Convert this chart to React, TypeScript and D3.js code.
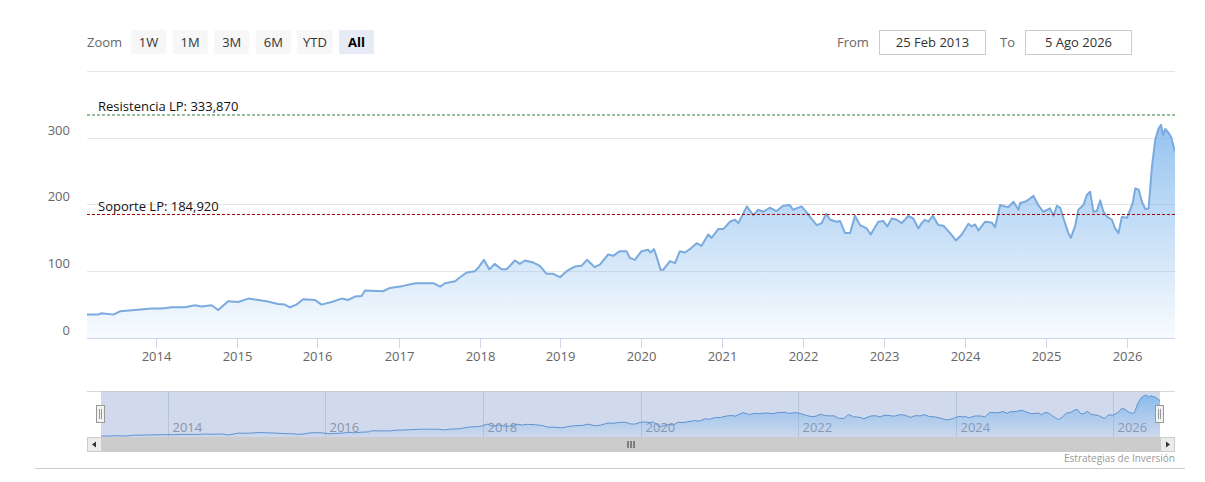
import React from "react";
import * as d3 from "d3";

const dates: string[] = [
  "2013-02-25","2013-04-15","2013-05-02","2013-06-24","2013-07-24","2013-09-29","2013-12-13",
  "2014-01-28","2014-03-14","2014-05-13","2014-06-27","2014-07-27","2014-09-10","2014-10-10","2014-11-24",
  "2015-01-08","2015-02-23","2015-04-08","2015-05-16","2015-07-07","2015-08-07","2015-08-29","2015-09-28","2015-10-28","2015-12-20",
  "2016-01-19","2016-03-05","2016-04-19","2016-05-19","2016-06-18","2016-07-18","2016-08-02","2016-10-23","2016-11-23",
  "2017-01-22","2017-03-16","2017-06-07","2017-07-07","2017-07-29","2017-09-13","2017-10-05","2017-11-04","2017-12-11","2017-12-26",
  "2018-01-21","2018-02-14","2018-03-11","2018-04-10","2018-05-03","2018-06-10","2018-07-02","2018-07-25","2018-09-01","2018-09-30","2018-10-31","2018-11-29","2018-12-30",
  "2019-01-29","2019-03-07","2019-04-06","2019-05-01","2019-06-05","2019-06-28","2019-08-04","2019-08-27","2019-09-26","2019-10-26","2019-11-10","2019-12-03",
  "2020-01-02","2020-02-01","2020-02-12","2020-02-27","2020-03-10","2020-03-28","2020-04-09","2020-05-09","2020-06-01","2020-06-23","2020-07-16","2020-08-07","2020-09-07","2020-09-29","2020-10-29","2020-11-13","2020-12-13",
  "2021-01-05","2021-02-04","2021-02-27","2021-03-14","2021-04-21","2021-05-20","2021-06-12","2021-07-04","2021-08-03","2021-09-02","2021-10-02","2021-11-01","2021-11-16","2021-12-24",
  "2022-01-16","2022-02-08","2022-03-03","2022-03-25","2022-04-14","2022-05-02","2022-06-01","2022-06-16","2022-07-08","2022-07-31","2022-08-22","2022-09-14","2022-10-14","2022-11-01","2022-12-05","2022-12-28",
  "2023-01-15","2023-02-04","2023-02-26","2023-03-21","2023-04-20","2023-05-12","2023-06-04","2023-06-19","2023-07-04","2023-07-19","2023-08-08","2023-09-02","2023-09-25","2023-10-25","2023-11-21","2023-12-17",
  "2024-01-16","2024-01-31","2024-02-15","2024-03-01","2024-03-31","2024-04-30","2024-05-15","2024-06-07","2024-06-29","2024-07-14","2024-08-06","2024-08-29","2024-09-05","2024-09-28","2024-10-13","2024-11-04","2024-11-26","2024-12-19",
  "2025-01-18","2025-02-03","2025-02-18","2025-03-05","2025-03-20","2025-04-11","2025-04-22","2025-05-11","2025-05-26","2025-06-18","2025-07-03","2025-07-18","2025-08-02","2025-08-17","2025-09-02","2025-09-16","2025-10-01","2025-10-24","2025-11-08","2025-11-23","2025-12-08","2025-12-31",
  "2026-01-15","2026-01-26","2026-02-07","2026-02-22","2026-03-09","2026-03-24","2026-04-08","2026-04-23","2026-05-08","2026-05-23","2026-06-03","2026-06-12","2026-06-22","2026-07-07","2026-07-18","2026-08-05",
];

const prices: number[] = [
  35,35,37,35,40,42,44,
  44,46,46,49,47,49,42,55,
  54,59,57,55,51,50,46,50,58,57,
  50,54,59,57,62,63,71,70,75,
  78,82,82,77,82,85,91,98,100,105,
  117,103,111,103,103,116,111,116,113,108,96,96,91,
  100,107,108,117,106,110,125,123,130,130,120,117,
  130,132,128,133,122,102,102,115,112,130,128,133,142,138,155,150,163,
  163,174,177,172,197,184,192,189,195,190,198,199,192,197,
  188,178,169,172,186,177,174,175,157,157,183,169,164,155,174,175,
  167,179,177,172,183,179,164,172,177,174,183,169,168,157,146,155,
  171,167,170,161,174,173,166,199,197,196,204,192,202,204,207,213,199,189,
  194,183,198,195,179,157,150,167,192,199,214,219,189,190,206,189,182,177,164,157,181,180,
  192,202,224,222,204,193,194,257,297,314,319,304,313,307,301,279,
];

const yTicks: number[] = [0, 100, 200, 300, 400];
const yTickLabels: string[] = ["0", "100", "200", "300", ""];
const xTickYears: number[] = [2014, 2015, 2016, 2017, 2018, 2019, 2020, 2021, 2022, 2023, 2024, 2025, 2026];
const navTickYears: number[] = [2014, 2016, 2018, 2020, 2022, 2024, 2026];
const zoomButtons: string[] = ["1W", "1M", "3M", "6M", "YTD", "All"];
const resistanceValue = 333.87;
const resistanceLabel = "Resistencia LP: 333,870";
const supportValue = 184.92;
const supportLabel = "Soporte LP: 184,920";
const fromLabel = "25 Feb 2013";
const toLabel = "5 Ago 2026";
const creditText = "Estrategias de Inversión";

const FONT = "'Open Sans', 'Segoe UI', Arial, sans-serif";

export default function App() {
  const parse = d3.timeParse("%Y-%m-%d");
  const data = dates.map((d, i) => ({ date: parse(d) as Date, value: prices[i] }));
  const domain = [data[0].date, data[data.length - 1].date];

  const left = 87, right = 1175, top = 70.8, bottom = 338;
  const x = d3.scaleTime().domain(domain).range([left, right]);
  const y = d3.scaleLinear().domain([0, 400]).range([bottom, top]);

  const area = d3.area<any>().x((d) => x(d.date)).y0(bottom).y1((d) => y(d.value));
  const line = d3.line<any>().x((d) => x(d.date)).y((d) => y(d.value));

  const navL = 101, navR = 1160, navTop = 391.5, navBottom = 437;
  const nx = d3.scaleTime().domain(domain).range([navL, navR]);
  const ny = d3.scaleLinear()
    .domain([d3.min(prices) as number, d3.max(prices) as number])
    .range([436, 395]);
  const navArea = d3.area<any>().x((d) => nx(d.date)).y0(navBottom).y1((d) => ny(d.value));
  const navLine = d3.line<any>().x((d) => nx(d.date)).y((d) => ny(d.value));

  const btnX0 = 131, btnStep = 41.6, btnW = 35;

  return (
    <svg width={1205} height={482} style={{ position: "absolute", left: 0, top: 0, background: "#fff" }} fontFamily={FONT}>
      <defs>
        <linearGradient id="mainGrad" gradientUnits="userSpaceOnUse" x1={0} y1={top} x2={0} y2={bottom}>
          <stop offset="0" stopColor="#7cb5ec" stopOpacity={1} />
          <stop offset="1" stopColor="#7cb5ec" stopOpacity={0.05} />
        </linearGradient>
        <linearGradient id="navGrad" gradientUnits="userSpaceOnUse" x1={0} y1={navTop} x2={0} y2={navBottom}>
          <stop offset="0" stopColor="#7cb5ec" stopOpacity={0.9} />
          <stop offset="1" stopColor="#7cb5ec" stopOpacity={0.05} />
        </linearGradient>
        <clipPath id="plotClip">
          <rect x={left} y={top - 5} width={right - left} height={bottom - top + 5} />
        </clipPath>
      </defs>

      {/* Range selector */}
      <text x={87} y={47} fontSize={13} fill="#666">Zoom</text>
      {zoomButtons.map((b, i) => {
        const bx = btnX0 + i * btnStep;
        const sel = b === "All";
        return (
          <g key={b}>
            <rect x={bx} y={30} width={btnW} height={24} fill={sel ? "#e6ebf5" : "#f7f7f7"} />
            <text x={bx + btnW / 2} y={46.5} textAnchor="middle" fontSize={13} fill={sel ? "#000" : "#333"} fontWeight={sel ? "bold" : "normal"}>{b}</text>
          </g>
        );
      })}
      <text x={837} y={47} fontSize={13} fill="#666">From</text>
      <rect x={879.5} y={30.5} width={106} height={24} fill="#fff" stroke="#cccccc" />
      <text x={932.5} y={47} textAnchor="middle" fontSize={13} fill="#333">{fromLabel}</text>
      <text x={1000} y={47} fontSize={13} fill="#666">To</text>
      <rect x={1025.5} y={30.5} width={106} height={24} fill="#fff" stroke="#cccccc" />
      <text x={1078.5} y={47} textAnchor="middle" fontSize={13} fill="#333">{toLabel}</text>

      {/* Grid lines */}
      {yTicks.map((t) => (
        <line key={t} x1={left} x2={right} y1={Math.round(y(t)) + 0.5} y2={Math.round(y(t)) + 0.5} stroke="#e6e6e6" />
      ))}
      {yTicks.map((t, i) => (
        <text key={"yl" + t} x={70} y={y(t) - 3} textAnchor="end" fontSize={13} fill="#666">{yTickLabels[i]}</text>
      ))}

      {/* Series */}
      <g clipPath="url(#plotClip)">
        <path d={area(data) as string} fill="url(#mainGrad)" />
        <path d={line(data) as string} fill="none" stroke="#7aaade" strokeWidth={2} strokeLinejoin="round" />
      </g>

      {/* Plot lines */}
      <line x1={left} x2={right} y1={y(resistanceValue)} y2={y(resistanceValue)} stroke="#2f7a3a" strokeWidth={1} strokeDasharray="3,2" />
      <text x={98} y={y(resistanceValue) - 4} fontSize={13} fill="#111">{resistanceLabel}</text>
      <line x1={left} x2={right} y1={y(supportValue)} y2={y(supportValue)} stroke="#a00000" strokeWidth={1} strokeDasharray="3,2" />
      <text x={98} y={y(supportValue) - 3.5} fontSize={13} fill="#111">{supportLabel}</text>

      {/* X axis */}
      <line x1={left} x2={right} y1={bottom + 0.5} y2={bottom + 0.5} stroke="#ccd6eb" />
      {xTickYears.map((yr) => {
        const tx = Math.round(x(new Date(yr, 0, 1))) + 0.5;
        return (
          <g key={yr}>
            <line x1={tx} x2={tx} y1={bottom} y2={bottom + 10} stroke="#ccd6eb" />
            <text x={tx} y={360.5} textAnchor="middle" fontSize={13} fill="#666">{yr}</text>
          </g>
        );
      })}

      {/* Navigator */}
      <line x1={left} x2={right} y1={navTop} y2={navTop} stroke="#d8d8d8" />
      <rect x={navL} y={navTop} width={navR - navL} height={navBottom - navTop} fill="rgba(102,133,194,0.3)" />
      {navTickYears.map((yr) => {
        const tx = Math.round(nx(new Date(yr, 0, 1))) + 0.5;
        return (
          <g key={"n" + yr}>
            <line x1={tx} x2={tx} y1={navTop} y2={navBottom} stroke="#b8c2d8" />
            <text x={tx + 4} y={432} fontSize={13} fill="#8a93a8">{yr}</text>
          </g>
        );
      })}
      <path d={navArea(data) as string} fill="url(#navGrad)" />
      <path d={navLine(data) as string} fill="none" stroke="#5f93d0" strokeWidth={1} />

      {/* Handles */}
      {[navL, navR].map((hx, i) => (
        <g key={"h" + i}>
          <rect x={hx - 4.5} y={405.5} width={8} height={17} fill="#f2f2f2" stroke="#999" />
          <line x1={hx - 1.5} x2={hx - 1.5} y1={409} y2={419} stroke="#999" />
          <line x1={hx + 0.5} x2={hx + 0.5} y1={409} y2={419} stroke="#999" />
        </g>
      ))}

      {/* Scrollbar */}
      <rect x={left} y={navBottom} width={right - left} height={15} fill="#f2f2f2" />
      <rect x={navL} y={navBottom} width={navR - navL} height={15} fill="#cccccc" />
      <rect x={left + 0.5} y={navBottom + 0.5} width={14} height={14} fill="#ebebeb" stroke="#cccccc" />
      <path d={`M${left + 9},${navBottom + 4.5} L${left + 5},${navBottom + 7.5} L${left + 9},${navBottom + 10.5} Z`} fill="#333" />
      <rect x={right - 14.5} y={navBottom + 0.5} width={14} height={14} fill="#ebebeb" stroke="#cccccc" />
      <path d={`M${right - 9},${navBottom + 4.5} L${right - 5},${navBottom + 7.5} L${right - 9},${navBottom + 10.5} Z`} fill="#333" />
      {[-3, 0, 3].map((o) => (
        <line key={"g" + o} x1={(navL + navR) / 2 + o + 0.5} x2={(navL + navR) / 2 + o + 0.5} y1={navBottom + 4} y2={navBottom + 11} stroke="#333" />
      ))}

      {/* Credits */}
      <text x={1175} y={462} textAnchor="end" fontSize={10} fill="#999">{creditText}</text>
      <line x1={35} x2={1185} y1={468.5} y2={468.5} stroke="#cccccc" />
    </svg>
  );
}
